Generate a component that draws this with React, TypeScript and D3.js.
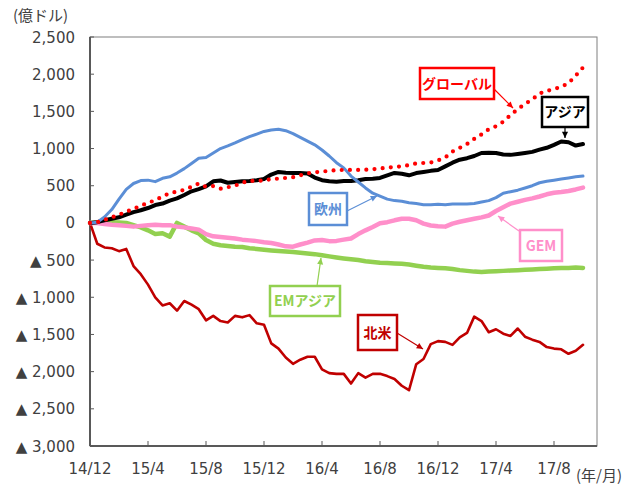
import React from "react";
import * as d3 from "d3";

// half-month steps from 14/12 (t = 0) to mid 17/10 (t = 34)
const monthIndex = d3.range(0, 34.01, 0.5);

const tickMonths = [0, 4, 8, 12, 16, 20, 24, 28, 32];
const tickLabels = ["14/12", "15/4", "15/8", "15/12", "16/4", "16/8", "16/12", "17/4", "17/8"];
const yTicks = [2500, 2000, 1500, 1000, 500, 0, -500, -1000, -1500, -2000, -2500, -3000];

const northAmerica = [
  0, -280, -330, -340, -380, -350, -580, -690, -830, -1000, -1110, -1080, -1180, -1050, -1100,
  -1160, -1310, -1250, -1320, -1340, -1250, -1270, -1240, -1350, -1370, -1620, -1690, -1810,
  -1895, -1840, -1800, -1800, -1970, -2020, -2030, -2030, -2160, -2020, -2080, -2030, -2030,
  -2060, -2100, -2190, -2250, -1900, -1830, -1630, -1590, -1600, -1640, -1540, -1480, -1260,
  -1320, -1470, -1430, -1490, -1520, -1420, -1530, -1570, -1600, -1670, -1690, -1700, -1760,
  -1720, -1640,
];
const emAsia = [
  0, 10, 10, 10, 5, 0, -30, -60, -100, -150, -140, -185, 0, -50, -100, -140, -230, -280, -300,
  -310, -320, -325, -340, -350, -360, -370, -378, -385, -392, -400, -410, -420, -435, -450,
  -465, -478, -490, -500, -515, -525, -535, -540, -545, -550, -560, -575, -590, -600, -605,
  -610, -620, -635, -645, -655, -660, -655, -650, -645, -640, -635, -630, -625, -620, -615,
  -610, -608, -605, -600, -605,
];
const gem = [
  0, 0, -15, -25, -30, -40, -50, -40, -30, -25, -30, -30, -50, -60, -75, -90, -150, -180, -190,
  -200, -210, -225, -235, -245, -260, -270, -290, -315, -320, -290, -265, -235, -230, -245,
  -242, -225, -210, -150, -100, -55, -5, 10, 35, 55, 55, 35, -10, -35, -45, -50, -10, 15, 35,
  55, 75, 100, 160, 210, 260, 285, 310, 330, 355, 385, 405, 415, 430, 450, 475,
];
const asia = [
  0, 10, 35, 55, 75, 110, 145, 170, 200, 240, 260, 300, 330, 375, 425, 455, 490, 560, 570, 540,
  550, 560, 565, 575, 590, 650, 685, 675, 672, 672, 665, 610, 575, 560, 555, 565, 565, 575,
  590, 595, 605, 640, 672, 660, 640, 670, 685, 700, 712, 760, 810, 850, 870, 900, 940, 945,
  940, 920, 915, 927, 940, 955, 985, 1010, 1050, 1095, 1085, 1040, 1060,
];
const europe = [
  0, 10, 80, 180, 320, 450, 530, 570, 575, 555, 600, 620, 670, 730, 800, 870, 880, 940, 1000,
  1035, 1075, 1120, 1160, 1195, 1230, 1250, 1260, 1240, 1200, 1150, 1100, 1050, 980, 900, 810,
  740, 630, 550, 470, 400, 360, 320, 300, 290, 270, 260, 245, 245, 250, 245, 255, 255, 255,
  260, 280, 300, 340, 400, 420, 440, 470, 500, 540, 560, 575, 590, 605, 620, 630,
];
const globalFlow = [
  0, 10, 40, 75, 110, 150, 190, 230, 270, 305, 355, 400, 420, 445, 485, 530, 485, 495, 460,
  480, 500, 540, 565, 565, 570, 590, 595, 605, 615, 640, 665, 680, 690, 700, 710, 712, 712,
  712, 715, 722, 732, 742, 752, 760, 778, 800, 806, 812, 840, 880, 960, 1010, 1060, 1130,
  1190, 1260, 1300, 1360, 1450, 1530, 1600, 1660, 1740, 1775, 1800, 1830, 1880, 1980, 2090,
];

const W = 638;
const H = 486;
const plot = { left: 90, right: 597, top: 37, bottom: 446 };
const font = "'DejaVu Sans', Verdana, sans-serif";
const jpFont = "'Noto Sans CJK JP', sans-serif";

const x = d3.scaleLinear().domain([0, 35]).range([plot.left, plot.left + 35 * 14.5]);
const y = d3.scaleLinear().domain([-3000, 2500]).range([plot.bottom, plot.top]);

const line = d3
  .line<number>()
  .x((d, i) => x(monthIndex[i]))
  .y((d) => y(d));

const series = [
  { name: "北米", values: northAmerica, color: "#c00000", width: 2.6 },
  { name: "EMアジア", values: emAsia, color: "#92d050", width: 4.5 },
  { name: "GEM", values: gem, color: "#ff8fca", width: 4.5 },
  { name: "アジア", values: asia, color: "#000000", width: 4 },
  { name: "欧州", values: europe, color: "#5b8ed6", width: 3 },
];

// callout boxes: box rect, arrow from -> to
const callouts = [
  { text: "グローバル", color: "#ff0000", box: [420, 68, 74, 31], from: [494, 89], to: [513, 108] },
  { text: "アジア", color: "#000000", box: [542, 97, 46, 30], from: [565, 127], to: [565, 138] },
  { text: "欧州", color: "#5b8ed6", box: [309, 193, 38, 32], from: [347, 211], to: [377, 196] },
  { text: "GEM", color: "#ff8fca", box: [520, 230, 42, 31], from: [519, 231], to: [498, 216] },
  { text: "EMアジア", color: "#92d050", box: [270, 286, 70, 30], from: [317, 286], to: [321, 258] },
  { text: "北米", color: "#c00000", box: [358, 315, 39, 35], from: [397, 333], to: [423, 349] },
];

const yLabel = (v: number) => (v < 0 ? "▲ " + d3.format(",")(-v) : d3.format(",")(v));

const Arrow: React.FC<{ from: number[]; to: number[]; color: string }> = ({ from, to, color }) => {
  const ang = Math.atan2(to[1] - from[1], to[0] - from[0]);
  const len = 7;
  const spread = 0.45;
  const p1 = [to[0] - len * Math.cos(ang - spread), to[1] - len * Math.sin(ang - spread)];
  const p2 = [to[0] - len * Math.cos(ang + spread), to[1] - len * Math.sin(ang + spread)];
  return (
    <g>
      <line x1={from[0]} y1={from[1]} x2={to[0]} y2={to[1]} stroke={color} strokeWidth={1.2} />
      <polygon points={`${to[0]},${to[1]} ${p1[0]},${p1[1]} ${p2[0]},${p2[1]}`} fill={color} />
    </g>
  );
};

export default function App() {
  return (
    <svg
      width={W}
      height={H}
      style={{ position: "absolute", left: 0, top: 0, background: "#fff" }}
    >
      <rect x={0} y={0} width={W} height={H} fill="#fff" />
      {/* frame */}
      <rect
        x={plot.left}
        y={plot.top}
        width={plot.right - plot.left}
        height={plot.bottom - plot.top}
        fill="none"
        stroke="#7f7f7f"
        strokeWidth={1}
      />
      <line x1={plot.left} x2={plot.left} y1={plot.top} y2={plot.bottom} stroke="#595959" strokeWidth={2} />
      <line x1={plot.left} x2={plot.right} y1={plot.bottom} y2={plot.bottom} stroke="#595959" strokeWidth={2} />

      {/* y axis */}
      {yTicks.map((v) => (
        <g key={v}>
          <line x1={plot.left} x2={plot.left + 4} y1={y(v)} y2={y(v)} stroke="#595959" strokeWidth={1} />
          <text
            x={75}
            y={y(v) + 5.5}
            textAnchor="end"
            fontFamily={font}
            fontSize={15}
            fill="#404040"
          >
            {yLabel(v)}
          </text>
        </g>
      ))}
      <text x={13} y={21} fontFamily={jpFont} fontSize={15} fill="#404040">
        (億ドル)
      </text>

      {/* x axis */}
      {tickMonths.map((m, i) => (
        <g key={m}>
          {m > 0 && (
            <line x1={x(m)} x2={x(m)} y1={plot.bottom} y2={plot.bottom - 5} stroke="#595959" strokeWidth={1} />
          )}
          <text x={x(m)} y={474} textAnchor="middle" fontFamily={font} fontSize={15} fill="#404040">
            {tickLabels[i]}
          </text>
        </g>
      ))}
      <text x={576} y={481} fontFamily={jpFont} fontSize={15} fill="#404040">
        (年/月)
      </text>

      {/* series */}
      {series.map((s) => (
        <path
          key={s.name}
          d={line(s.values) ?? ""}
          fill="none"
          stroke={s.color}
          strokeWidth={s.width}
          strokeLinejoin="round"
          strokeLinecap="round"
        />
      ))}
      <path
        d={line(globalFlow) ?? ""}
        fill="none"
        stroke="#ff0000"
        strokeWidth={4.2}
        strokeDasharray="0 8.2"
        strokeLinecap="round"
      />

      {/* callouts */}
      {callouts.map((c) => (
        <g key={c.text}>
          <Arrow from={c.from} to={c.to} color={c.color} />
          <rect
            x={c.box[0]}
            y={c.box[1]}
            width={c.box[2]}
            height={c.box[3]}
            fill="#fff"
            stroke={c.color}
            strokeWidth={2.5}
          />
          <text
            x={c.box[0] + c.box[2] / 2}
            y={c.box[1] + c.box[3] / 2 + 5}
            textAnchor="middle"
            fontFamily={jpFont}
            fontWeight="bold"
            fontSize={14}
            fill={c.color}
          >
            {c.text}
          </text>
        </g>
      ))}
    </svg>
  );
}
